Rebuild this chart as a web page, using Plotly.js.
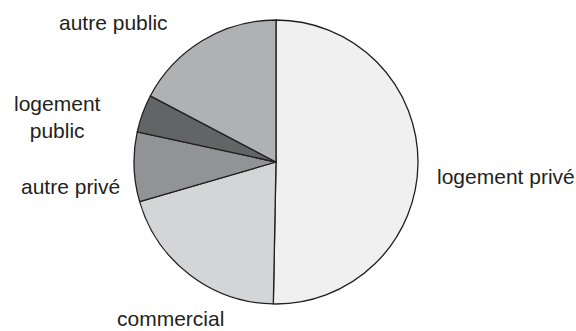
<!DOCTYPE html>
<html>
<head>
<meta charset="utf-8">
<script src="https://cdn.plot.ly/plotly-3.0.1.min.js"></script>
<style>html,body{margin:0;padding:0;background:#fff;}#chart{width:576px;height:331px;}</style>
</head>
<body>
<div id="chart"></div>
<script>
// Data
var categories = ["logement privé", "commercial", "autre privé", "logement public", "autre public"];
var values = [50.3, 20.2, 7.9, 4.3, 17.3];
var sliceColors = ["#f0f0f0", "#d4d5d7", "#929396", "#636466", "#b0b1b3"];

// Label placement (pixels in a 576x331 canvas), layout only
var labelPx = [[506, 176], [170, 318], [70, 186], [57, 117], [113, 23]];

var W = 576, H = 331;
var cx = 276, cy = 162, r = 142;

var annotations = categories.map(function (c, i) {
  var txt = c === "logement public" ? "logement<br>public" : c;
  return {
    text: txt,
    xref: "paper", yref: "paper",
    x: labelPx[i][0] / W, y: 1 - labelPx[i][1] / H,
    xanchor: "center", yanchor: "middle",
    showarrow: false,
    borderpad: 0,
    font: {family: "Liberation Sans, Arial, sans-serif", size: 21, color: "#231f20"}
  };
});

var trace = {
  type: "pie",
  labels: categories,
  values: values,
  sort: false,
  direction: "clockwise",
  rotation: 0,
  textinfo: "none",
  hoverinfo: "label+percent",
  marker: {colors: sliceColors, line: {color: "#231f20", width: 1.3}},
  domain: {x: [(cx - r) / W, (cx + r) / W], y: [1 - (cy + r) / H, 1 - (cy - r) / H]},
  showlegend: false
};

Plotly.newPlot("chart", [trace], {
  width: W, height: H,
  margin: {l: 0, r: 0, t: 0, b: 0},
  paper_bgcolor: "#ffffff",
  showlegend: false,
  annotations: annotations
}, {staticPlot: true});
</script>
</body>
</html>
